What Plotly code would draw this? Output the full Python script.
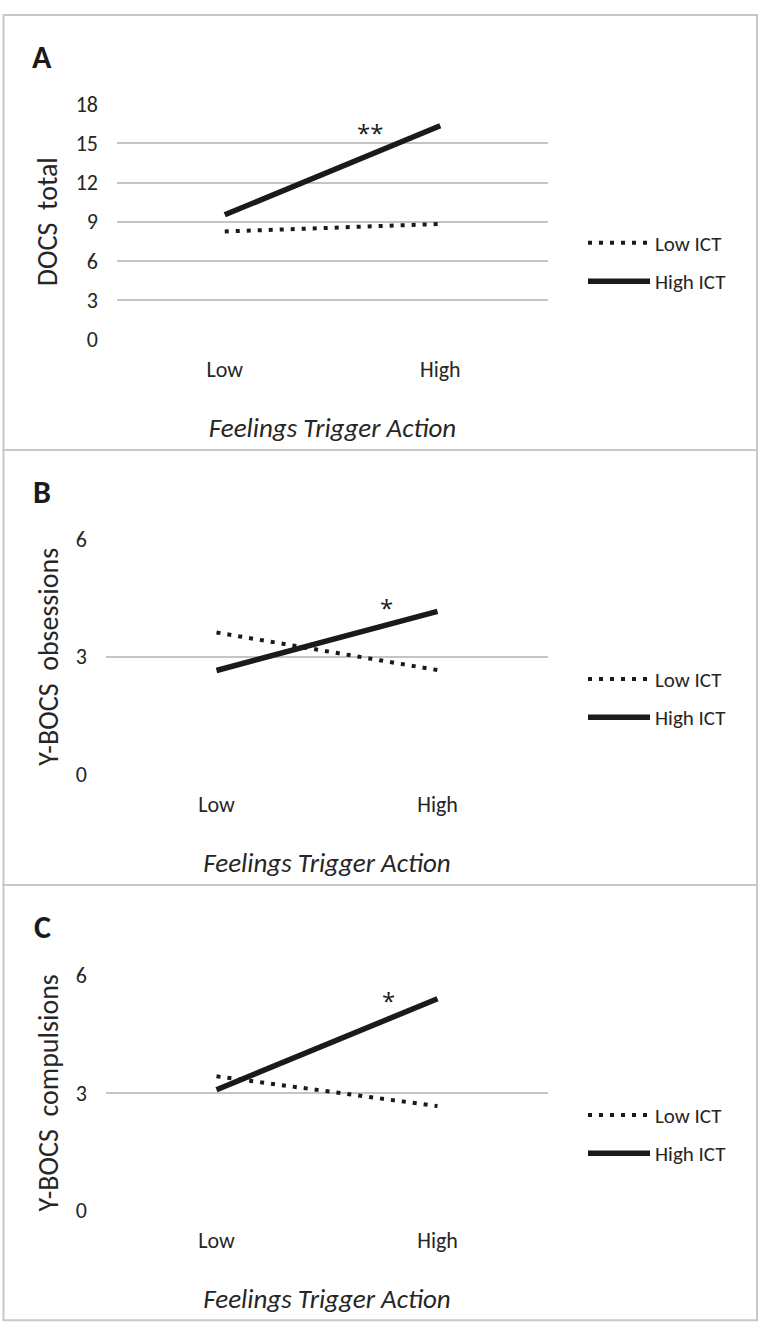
import plotly.graph_objects as go

# ---------------- data ----------------
levels = ["Low", "High"]                # Feelings Trigger Action
docs_low_ict = [8.25, 8.83]
docs_high_ict = [9.53, 16.35]
obs_low_ict = [3.62, 2.66]
obs_high_ict = [2.65, 4.16]
comp_low_ict = [3.42, 2.66]
comp_high_ict = [3.08, 5.40]
series_names = ["Low ICT", "High ICT"]
panel_letters = ["A", "B", "C"]
y_titles = ["DOCS  total", "Y-BOCS  obsessions", "Y-BOCS  compulsions"]
y_max = [18, 6, 6]
y_step = [3, 3, 3]
sig_marks = ["**", "*", "*"]
x_title = "Feelings Trigger Action"

W, H = 760, 1341
FONT = "Carlito, Lato, sans-serif"
TXT = "#262626"


def px_x(p):
    return p / W


def px_y(p):
    return 1 - p / H


panels = [
    dict(low=docs_low_ict, high=docs_high_ict, x0=117, x1=548, ytop=93, ybot=333,
         top=2, bottom=446, letter_y=45, leg_y=235, sig=(0.675, 15.85)),
    dict(low=obs_low_ict, high=obs_high_ict, x0=106, x1=548, ytop=537, ybot=777,
         top=446, bottom=890, letter_y=489, leg_y=680, sig=(0.771, 4.25)),
    dict(low=comp_low_ict, high=comp_high_ict, x0=106, x1=548, ytop=982, ybot=1222,
         top=890, bottom=1334, letter_y=933, leg_y=1125, sig=(0.776, 5.35)),
]

fig = go.Figure()
shapes = []
annotations = []
layout = {}

for i, p in enumerate(panels):
    n = i + 1
    xa = "x" if n == 1 else f"x{n}"
    ya = "y" if n == 1 else f"y{n}"
    leg = "legend" if n == 1 else f"legend{n}"

    fig.add_trace(go.Scatter(
        x=levels, y=p["low"], name=series_names[0], mode="lines",
        line=dict(color="#1a1a1a", width=4, dash="4px,7px"),
        xaxis=xa, yaxis=ya, legend=leg, legendgroup=f"lo{n}",
        hoverinfo="skip"))
    fig.add_trace(go.Scatter(
        x=levels, y=p["high"], name=series_names[1], mode="lines",
        line=dict(color="#1a1a1a", width=5.5),
        xaxis=xa, yaxis=ya, legend=leg, legendgroup=f"hi{n}",
        hoverinfo="skip"))

    xkey = "xaxis" if n == 1 else f"xaxis{n}"
    ykey = "yaxis" if n == 1 else f"yaxis{n}"
    layout[xkey] = dict(
        domain=[px_x(p["x0"]), px_x(p["x1"])], anchor=ya,
        type="category", categoryorder="array", categoryarray=levels,
        range=[-0.5, 1.5], showgrid=False, zeroline=False, showline=False,
        ticks="", ticklabelstandoff=15,
        tickfont=dict(family=FONT, size=22, color=TXT),
        title=dict(text=f"<i>{x_title}</i>", standoff=35,
                   font=dict(family=FONT, size=27, color=TXT)),
    )
    layout[ykey] = dict(
        domain=[px_y(p["ybot"]), px_y(p["ytop"])], anchor=xa,
        range=[0, y_max[i]], dtick=y_step[i], tick0=0,
        showgrid=True, gridcolor="#c4c4c4", gridwidth=1.5,
        zeroline=False, showline=False, ticks="", ticklabelstandoff=18,
        tickfont=dict(family=FONT, size=22, color=TXT),
        title=dict(text=y_titles[i], standoff=9,
                   font=dict(family=FONT, size=28, color=TXT)),
    )
    layout[leg] = dict(
        x=px_x(583), y=px_y(p["leg_y"] - 21), xanchor="left", yanchor="top",
        itemwidth=62, tracegroupgap=8, bgcolor="rgba(0,0,0,0)",
        font=dict(family=FONT, size=21, color=TXT),
    )

    shapes.append(dict(type="rect", xref="paper", yref="paper",
                       x0=px_x(3.5), x1=px_x(757), y0=px_y(p["bottom"]), y1=px_y(p["top"]),
                       line=dict(color="#c8c8c8", width=2), fillcolor="rgba(0,0,0,0)",
                       layer="below"))
    annotations.append(dict(text=f"<b>{panel_letters[i]}</b>", xref="paper", yref="paper",
                            x=px_x(42), y=px_y(p["letter_y"]), xanchor="center",
                            yanchor="middle", showarrow=False,
                            font=dict(family=FONT, size=32, color="#1a1a1a")))
    annotations.append(dict(text=sig_marks[i], xref=xa, yref=ya,
                            x=p["sig"][0], y=p["sig"][1], xanchor="center",
                            yanchor="middle", showarrow=False,
                            font=dict(family="Open Sans, sans-serif", size=24,
                                      color="#1a1a1a")))

fig.update_layout(
    width=W, height=H, margin=dict(l=0, r=0, t=0, b=0),
    paper_bgcolor="white", plot_bgcolor="white",
    showlegend=True, shapes=shapes, annotations=annotations,
    **layout,
)

fig.write_html("out.html", config={"displayModeBar": False},
               post_script="document.body.style.margin='0';")
